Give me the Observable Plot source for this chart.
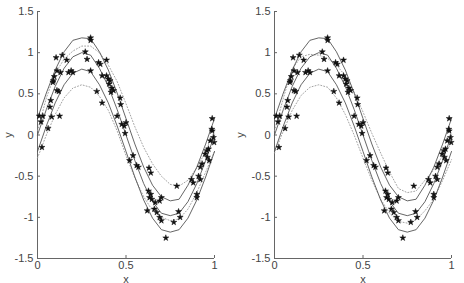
<!DOCTYPE html>
<html><head><meta charset="utf-8">
<script src="https://cdn.jsdelivr.net/npm/d3@7"></script>
<script src="https://cdn.jsdelivr.net/npm/@observablehq/plot@0.6"></script>
<style>
body{margin:0;background:#fff;}
#wrap{display:flex;width:464px;height:283px;}
</style>
</head><body><div id="wrap"></div>
<script>
const xs = [0,0.05,0.1,0.15,0.2,0.25,0.3,0.35,0.4,0.45,0.5,0.55,0.6,0.65,0.7,0.75,0.8,0.85,0.9,0.95,1];
const solidTop = [0.2,0.51,0.79,1.01,1.15,1.18,1.17,1.01,0.79,0.51,0.2,-0.11,-0.39,-0.61,-0.75,-0.8,-0.78,-0.61,-0.39,-0.11,0.2];
const solidMid = [0,0.31,0.59,0.81,0.95,1.0,0.97,0.81,0.59,0.31,0,-0.31,-0.59,-0.81,-0.95,-0.98,-0.95,-0.81,-0.59,-0.31,0];
const solidLow = [-0.2,0.11,0.39,0.61,0.75,0.8,0.77,0.61,0.39,0.11,-0.2,-0.51,-0.79,-1.01,-1.15,-1.18,-1.15,-1.01,-0.79,-0.51,-0.2];
const leftDotUp = [0.05,0.45,0.75,0.92,1.02,1.08,1.08,1.0,0.85,0.65,0.38,0.1,-0.15,-0.35,-0.5,-0.6,-0.62,-0.55,-0.4,-0.2,0.05];
const leftDotLow = [-0.28,0.0,0.25,0.45,0.57,0.61,0.58,0.47,0.3,0.05,-0.25,-0.52,-0.75,-0.92,-1.0,-1.04,-1.02,-0.9,-0.7,-0.45,-0.2];
const rightDotUp = [0.05,0.45,0.8,0.95,0.98,0.97,0.93,0.85,0.72,0.52,0.28,0.02,-0.22,-0.45,-0.65,-0.7,-0.68,-0.55,-0.42,-0.25,-0.1];
const rightDotLow = [-0.22,0.05,0.3,0.48,0.58,0.61,0.58,0.45,0.25,0.0,-0.28,-0.55,-0.78,-0.95,-1.05,-1.07,-1.03,-0.92,-0.78,-0.55,-0.3];
const ptX = [0.01,0.03,0.02,0.025,0.06,0.07,0.075,0.08,0.09,0.095,0.087,0.11,0.105,0.11,0.12,0.125,0.14,0.13,0.165,0.175,0.19,0.2,0.27,0.28,0.30,0.3,0.3,0.335,0.345,0.355,0.365,0.365,0.39,0.39,0.40,0.41,0.405,0.42,0.415,0.43,0.467,0.47,0.45,0.476,0.49,0.495,0.5,0.52,0.54,0.56,0.57,0.63,0.64,0.62,0.627,0.64,0.633,0.646,0.665,0.66,0.674,0.69,0.70,0.69,0.70,0.725,0.77,0.787,0.797,0.806,0.87,0.88,0.90,0.91,0.92,0.93,0.947,0.957,0.966,0.976,0.985,0.987,0.987,0.994,0.998,0.97,0.96,0.92,0.9];
const ptY = [0.23,0.23,0.16,-0.15,0.08,0.34,0.42,0.22,0.66,0.71,0.64,0.78,0.94,0.54,0.53,0.23,0.97,0.76,0.91,0.76,0.78,0.76,1.01,0.92,1.18,1.15,0.78,0.53,0.88,0.86,0.72,0.39,0.91,0.72,0.68,0.66,0.62,0.57,0.52,0.54,0.45,0.37,0.23,0.13,0.11,0.02,0.15,-0.31,-0.25,-0.37,-0.39,-0.4,-0.46,-0.92,-0.68,-0.72,-0.76,-0.78,-0.82,-0.9,-0.94,-0.8,-0.76,-1.0,-1.04,-1.25,-1.06,-0.62,-0.93,-1.0,-0.54,-0.58,-0.76,-0.5,-0.54,-0.35,-0.23,-0.19,-0.17,-0.07,0.07,0.05,0.2,-0.03,-0.09,-0.31,-0.27,-0.39,-0.72];
const xTicks = [0,0.5,1];
const yTicks = [-1.5,-1,-0.5,0,0.5,1,1.5];

const curve = arr => xs.map((x,i)=>({x, y: arr[i]}));
const pts = ptX.map((x,i)=>({x, y: ptY[i]}));

function panel(dotUp, dotLow, ml, mr, ylabOff){
  return Plot.plot({
    width: 232, height: 283,
    marginLeft: ml, marginRight: mr, marginTop: 11, marginBottom: 25,
    style: {fontFamily: "'Liberation Sans', Arial, sans-serif", fontSize: "11px", color: "#444", background: "#fff"},
    x: {domain: [0,1]},
    y: {domain: [-1.5,1.5]},
    marks: [
      Plot.ruleX([0], {stroke: "#666", strokeWidth: 1}),
      Plot.ruleY([-1.5], {stroke: "#666", strokeWidth: 1}),
      Plot.axisX({ticks: xTicks, tickSize: -3, tickPadding: 6, tickFormat: d => String(d), stroke: "#666",
        label: "x", labelAnchor: "center", labelArrow: "none", labelOffset: 24}),
      Plot.axisY({ticks: yTicks, tickSize: -3, tickPadding: 7, tickFormat: d => String(d), stroke: "#666",
        label: "y", labelAnchor: "center", labelArrow: "none", labelOffset: ylabOff}),
      Plot.line(curve(dotUp), {x: "x", y: "y", stroke: "#999", strokeWidth: 0.9, strokeDasharray: "1,2"}),
      Plot.line(curve(dotLow), {x: "x", y: "y", stroke: "#999", strokeWidth: 0.9, strokeDasharray: "1,2"}),
      Plot.line(curve(solidTop), {x: "x", y: "y", stroke: "#555", strokeWidth: 0.9}),
      Plot.line(curve(solidMid), {x: "x", y: "y", stroke: "#555", strokeWidth: 0.9}),
      Plot.line(curve(solidLow), {x: "x", y: "y", stroke: "#555", strokeWidth: 0.9}),
      Plot.dot(pts, {x: "x", y: "y", symbol: "star", r: 1.9, fill: "#111", stroke: "#111", strokeWidth: 0.5})
    ]
  });
}
const wrap = document.getElementById("wrap");
wrap.append(panel(leftDotUp, leftDotLow, 37, 18, 33));
wrap.append(panel(rightDotUp, rightDotLow, 42, 13, 38));
</script>
</body></html>
